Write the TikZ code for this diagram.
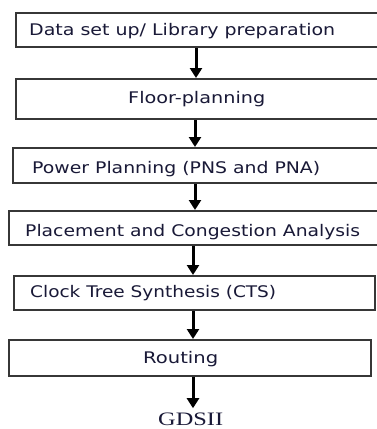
\documentclass[tikz,border=0pt]{standalone}
\usepackage{fontspec}
\setmainfont{DejaVu Sans}
\newfontfamily\gdsfont{Liberation Serif}
\usetikzlibrary{arrows.meta}
\definecolor{ink}{RGB}{25,25,55}
\definecolor{frame}{RGB}{55,55,55}
% stretch a label horizontally to a given width, keeping its height
\newcommand\fitto[2]{\resizebox{#1}{\height}{#2}}

\begin{document}
\begin{tikzpicture}[x=1pt,y=-1pt,
  stagebox/.style={draw=frame,line width=2pt,fill=white,inner sep=0pt,anchor=north west},
  stagetext/.style={text=ink,inner sep=0pt,anchor=base west,font=\fontsize{16}{19}\selectfont},
  flow/.style={line width=3pt,black,-{Triangle[width=12pt,length=10pt]}}]

  \fill[white] (0,0) rectangle (377,429);
  \useasboundingbox (0,0) rectangle (377,429);
  \clip (0,0) rectangle (377,429);

  % process stages
  \node[stagebox,minimum width=365pt,minimum height=34pt] (b1) at (15,12) {};
  \node[stagebox,minimum width=365pt,minimum height=40pt] (b2) at (15,78) {};
  \node[stagebox,minimum width=368pt,minimum height=35pt] (b3) at (12,147) {};
  \node[stagebox,minimum width=372pt,minimum height=34pt] (b4) at (8,210) {};
  \node[stagebox,minimum width=361pt,minimum height=34pt] (b5) at (13,275) {};
  \node[stagebox,minimum width=362pt,minimum height=36pt] (b6) at (8,339) {};

  % stage labels
  \node[stagetext] (t1) at (29,35) {\fitto{306pt}{Data set up/ Library preparation}};
  \node[stagetext] (t2) at (128,103.5) {\fitto{137pt}{Floor-planning}};
  \node[stagetext] (t3) at (32,173) {\fitto{288pt}{Power Planning (PNS and PNA)}};
  \node[stagetext] (t4) at (25,236) {\fitto{335pt}{Placement and Congestion Analysis}};
  \node[stagetext] (t5) at (30,297) {\fitto{246pt}{Clock Tree Synthesis (CTS)}};
  \node[stagetext] (t6) at (143,363.5) {\fitto{75pt}{Routing}};

  % final output
  \node[text=ink,inner sep=0pt,anchor=base west,font=\gdsfont\fontsize{19}{21}\selectfont] (g) at (158,425) {\fitto{65pt}{GDSII}};

  % arrow columns
  \coordinate (c1) at (196,0);
  \coordinate (c2) at (195,0);
  \coordinate (c3) at (193,0);

  \draw[flow] (b1.south -| c1) -- (b2.north -| c1);
  \draw[flow] (b2.south -| c2) -- (b3.north -| c2);
  \draw[flow] (b3.south -| c2) -- (b4.north -| c2);
  \draw[flow] (b4.south -| c3) -- (b5.north -| c3);
  \draw[flow] (b5.south -| c3) -- (b6.north -| c3);
  \draw[flow,shorten >=4pt] (b6.south -| c3) -- (g.north -| c3);
\end{tikzpicture}
\end{document}
